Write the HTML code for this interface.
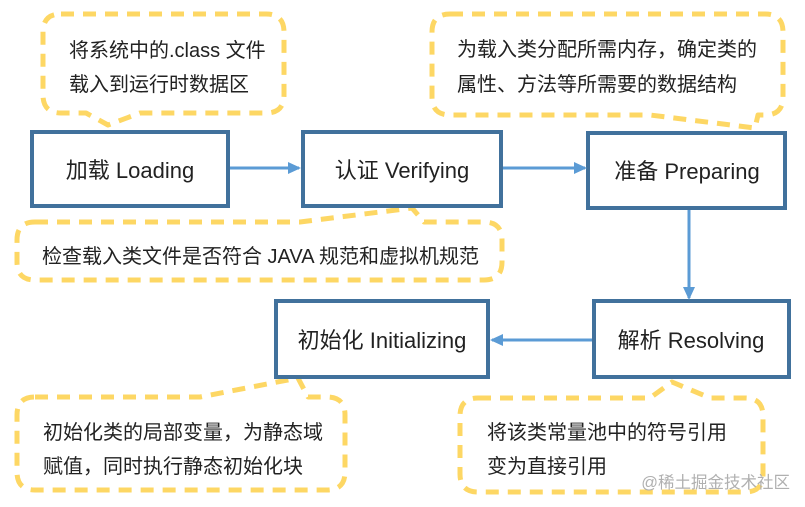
<!DOCTYPE html>
<html><head><meta charset="utf-8"><style>
html,body{margin:0;padding:0;background:#fff;}
svg{display:block;}
text{font-family:"Liberation Sans","Noto Sans CJK SC",sans-serif;fill:#222;}
</style></head><body>
<svg width="805" height="507" viewBox="0 0 805 507" xmlns="http://www.w3.org/2000/svg">
<defs>
<marker id="ah" markerWidth="13" markerHeight="12" refX="11" refY="6" orient="auto" markerUnits="userSpaceOnUse">
<path d="M0,0 L13,6 L0,12 z" fill="#5b9bd5"/>
</marker>
</defs>
<g fill="none" stroke="#fdd764" stroke-width="5" stroke-dasharray="13,9" stroke-linejoin="round">
<path d="M61,14 L266,14 Q284,14 284,32 L284,95 Q284,113 266,113 L140,113 L108,125 L86,113 L61,113 Q43,113 43,95 L43,32 Q43,14 61,14 Z"/>
<path d="M450,14 L765,14 Q783,14 783,32 L783,97 Q783,115 765,115 L758,115 L755,128 L650,115 L450,115 Q432,115 432,97 L432,32 Q432,14 450,14 Z"/>
<path d="M35,222 L300,222 L412,208 L424,222 L484,222 Q502,222 502,240 L502,262 Q502,280 484,280 L35,280 Q17,280 17,262 L17,240 Q17,222 35,222 Z"/>
<path d="M35,397 L200,397 L298,378 L308,397 L327,397 Q345,397 345,415 L345,472 Q345,490 327,490 L35,490 Q17,490 17,472 L17,415 Q17,397 35,397 Z"/>
<path d="M478,398 L650,398 L672,382 L710,398 L745,398 Q763,398 763,416 L763,474 Q763,492 745,492 L478,492 Q460,492 460,474 L460,416 Q460,398 478,398 Z"/>
</g>
<g fill="#fff" stroke="#41719c" stroke-width="4">
<rect x="32" y="132" width="196" height="74"/>
<rect x="303" y="132" width="198" height="74"/>
<rect x="588" y="133" width="197" height="75"/>
<rect x="276" y="301" width="212" height="76"/>
<rect x="594" y="301" width="195" height="76"/>
</g>
<g stroke="#5b9bd5" stroke-width="3" fill="none">
<line x1="230" y1="168" x2="299" y2="168" marker-end="url(#ah)"/>
<line x1="503" y1="168" x2="585" y2="168" marker-end="url(#ah)"/>
<line x1="689" y1="210" x2="689" y2="298" marker-end="url(#ah)"/>
<line x1="592" y1="340" x2="492" y2="340" marker-end="url(#ah)"/>
</g>
<g font-size="22">
<text x="130" y="178" text-anchor="middle">加载 Loading</text>
<text x="402" y="178" text-anchor="middle">认证 Verifying</text>
<text x="687" y="179" text-anchor="middle">准备 Preparing</text>
<text x="382" y="348" text-anchor="middle">初始化 Initializing</text>
<text x="691" y="348" text-anchor="middle">解析 Resolving</text>
</g>
<g font-size="20">
<text x="69" y="57">将系统中的.class 文件</text>
<text x="69" y="91">载入到运行时数据区</text>
<text x="457" y="56">为载入类分配所需内存，确定类的</text>
<text x="457" y="91">属性、方法等所需要的数据结构</text>
<text x="42" y="263">检查载入类文件是否符合 JAVA 规范和虚拟机规范</text>
<text x="43" y="439">初始化类的局部变量，为静态域</text>
<text x="43" y="473">赋值，同时执行静态初始化块</text>
<text x="487" y="439">将该类常量池中的符号引用</text>
<text x="487" y="473">变为直接引用</text>
</g>
<text x="790" y="488" font-size="16.5" text-anchor="end" style="fill:#b0b0b0">@稀土掘金技术社区</text>
</svg>
</body></html>
